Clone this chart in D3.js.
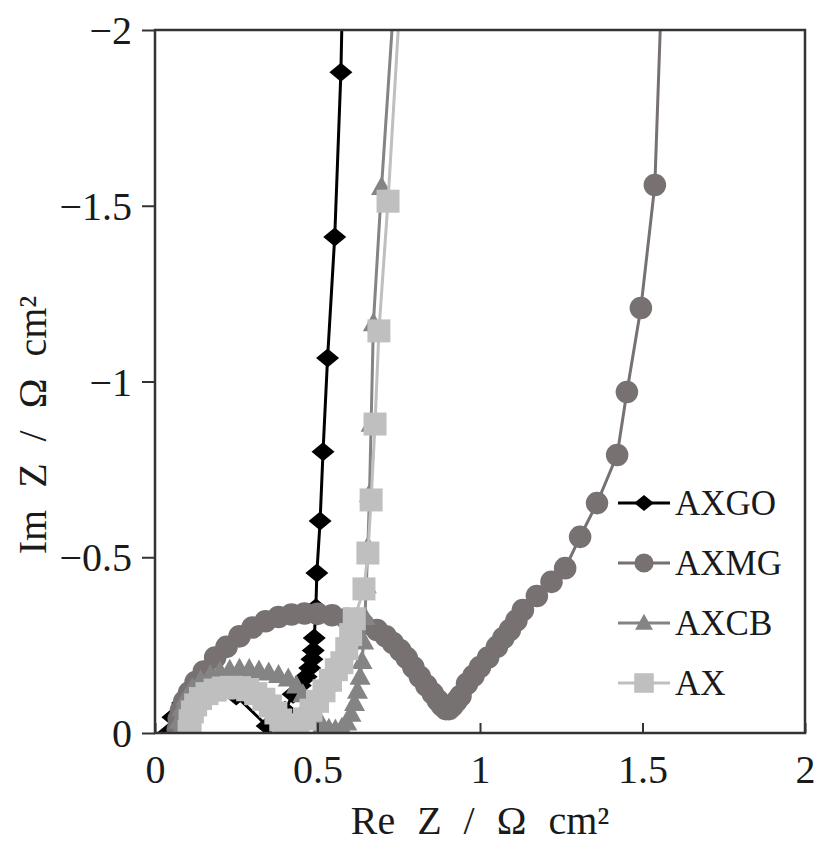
<!DOCTYPE html>
<html>
<head>
<meta charset="utf-8">
<script src="https://cdn.jsdelivr.net/npm/d3@7"></script>
<style>
  html, body { margin: 0; padding: 0; background: #fff; }
  svg { display: block; }
  text { font-family: "Liberation Serif", "Times New Roman", serif; fill: #1a1a1a; }
</style>
</head>
<body>
<svg id="chart" width="820" height="859"></svg>
<script>
// Nyquist data: real part (Ω cm²) and imaginary part (Ω cm², negative)
const axgoRe = [0.04,0.055,0.085,0.13,0.19,0.25,0.345,0.40,0.425,0.447,0.465,0.476,0.483,0.487,0.49,0.495,0.498,0.508,0.517,0.531,0.553,0.572,0.578];
const axgoIm = [0,-0.045,-0.085,-0.11,-0.118,-0.105,-0.02,-0.065,-0.11,-0.135,-0.16,-0.185,-0.21,-0.235,-0.27,-0.356,-0.455,-0.603,-0.80,-1.067,-1.411,-1.88,-2.15];

const axmgRe = [0.07,0.073,0.08,0.09,0.105,0.125,0.15,0.185,0.22,0.26,0.30,0.34,0.38,0.42,0.46,0.50,0.545,0.59,0.64,0.683,0.71,0.732,0.755,0.775,0.795,0.815,0.835,0.855,0.87,0.883,0.895,0.905,0.915,0.927,0.94,0.96,0.98,1.0,1.025,1.052,1.072,1.092,1.112,1.132,1.175,1.22,1.262,1.308,1.36,1.422,1.452,1.495,1.538,1.562];
const axmgIm = [-0.01,-0.04,-0.065,-0.09,-0.115,-0.145,-0.175,-0.215,-0.245,-0.275,-0.30,-0.318,-0.33,-0.337,-0.34,-0.339,-0.335,-0.325,-0.31,-0.293,-0.275,-0.256,-0.235,-0.213,-0.187,-0.16,-0.135,-0.112,-0.093,-0.078,-0.068,-0.068,-0.077,-0.09,-0.105,-0.14,-0.163,-0.188,-0.215,-0.245,-0.27,-0.293,-0.32,-0.35,-0.39,-0.43,-0.469,-0.558,-0.654,-0.791,-0.970,-1.209,-1.559,-2.2];

const axcbRe = [0.07,0.074,0.082,0.095,0.115,0.14,0.17,0.20,0.23,0.26,0.29,0.32,0.35,0.38,0.41,0.435,0.455,0.47,0.485,0.50,0.515,0.535,0.555,0.575,0.59,0.603,0.614,0.623,0.631,0.637,0.642,0.646,0.65,0.655,0.66,0.665,0.672,0.697,0.74];
const axcbIm = [0,-0.035,-0.07,-0.10,-0.128,-0.15,-0.165,-0.175,-0.18,-0.183,-0.182,-0.178,-0.172,-0.165,-0.155,-0.135,-0.11,-0.085,-0.06,-0.04,-0.022,-0.012,-0.01,-0.015,-0.03,-0.055,-0.085,-0.12,-0.16,-0.205,-0.26,-0.33,-0.42,-0.53,-0.68,-0.88,-1.166,-1.553,-2.15];

const axRe = [0.105,0.108,0.115,0.125,0.14,0.16,0.185,0.21,0.235,0.26,0.285,0.31,0.335,0.355,0.372,0.387,0.40,0.412,0.425,0.44,0.46,0.48,0.50,0.52,0.54,0.558,0.575,0.59,0.602,0.613,0.643,0.655,0.665,0.677,0.689,0.717,0.758];
const axIm = [-0.005,-0.035,-0.06,-0.08,-0.098,-0.112,-0.122,-0.128,-0.13,-0.129,-0.123,-0.112,-0.096,-0.077,-0.057,-0.037,-0.02,-0.01,-0.008,-0.018,-0.04,-0.065,-0.09,-0.12,-0.15,-0.18,-0.2,-0.24,-0.28,-0.325,-0.41,-0.512,-0.663,-0.879,-1.144,-1.513,-2.15];

const seriesNames = ["AXGO", "AXMG", "AXCB", "AX"];
const xTicks = [0, 0.5, 1, 1.5, 2];
const yTicks = [0, -0.5, -1, -1.5, -2];
const xTitle = "Re Z / Ω cm²";
const yTitle = "Im Z / Ω cm²";

const series = [
  { name: seriesNames[0], re: axgoRe, im: axgoIm, color: "#000000", symbol: "diamond" },
  { name: seriesNames[1], re: axmgRe, im: axmgIm, color: "#777171", symbol: "circle" },
  { name: seriesNames[2], re: axcbRe, im: axcbIm, color: "#848484", symbol: "triangle" },
  { name: seriesNames[3], re: axRe, im: axIm, color: "#bfbfbf", symbol: "square" }
];

const svg = d3.select("#chart");
const plotL = 155, plotR = 805, plotT = 30, plotB = 733;

const x = d3.scaleLinear().domain([0, 2]).range([plotL, plotR]);
const y = d3.scaleLinear().domain([0, -2]).range([plotB, plotT]);

const fmt = v => (v < 0 ? "\u2212" : "") + String(Math.abs(v));

// markers
const symbolPaths = {
  diamond: "M0,-9.5L11.5,0L0,9.5L-11.5,0Z",
  circle: d3.symbol(d3.symbolCircle, 400)(),
  triangle: "M0,-11L10.5,8L-10.5,8Z",
  square: "M-11.5,-11.5H11.5V11.5H-11.5Z"
};

svg.append("defs").append("clipPath").attr("id", "plotClip")
  .append("rect").attr("x", plotL).attr("y", plotT)
  .attr("width", plotR - plotL).attr("height", plotB - plotT);

const plot = svg.append("g").attr("clip-path", "url(#plotClip)");
const line = d3.line().x(d => x(d[0])).y(d => y(d[1]));

// series painted in order, the first one lowest
series.forEach(s => {
  const pts = s.re.map((r, k) => [r, s.im[k]]);
  const g = plot.append("g");
  g.append("path").datum(pts)
    .attr("d", line)
    .attr("fill", "none")
    .attr("stroke", s.color)
    .attr("stroke-width", 3);
  g.selectAll("path.pt").data(pts).join("path")
    .attr("class", "pt")
    .attr("d", symbolPaths[s.symbol])
    .attr("transform", d => `translate(${x(d[0])},${y(d[1])})`)
    .attr("fill", s.color);
});

// frame
svg.append("rect")
  .attr("x", plotL).attr("y", plotT)
  .attr("width", plotR - plotL).attr("height", plotB - plotT)
  .attr("fill", "none").attr("stroke", "#333").attr("stroke-width", 2.5);

// axes
const xAxis = d3.axisBottom(x).tickValues(xTicks).tickSizeInner(-10).tickSizeOuter(0).tickPadding(22).tickFormat(fmt);
const yAxis = d3.axisLeft(y).tickValues(yTicks).tickSize(13).tickSizeOuter(0).tickPadding(10).tickFormat(fmt);

const gx = svg.append("g").attr("transform", `translate(0,${plotB})`).call(xAxis);
const gy = svg.append("g").attr("transform", `translate(${plotL},0)`).call(yAxis);
[gx, gy].forEach(g => {
  g.select(".domain").remove();
  g.selectAll(".tick line").attr("stroke", "#333").attr("stroke-width", 2);
  g.selectAll(".tick text")
    .attr("font-family", "Liberation Serif, Times New Roman, serif")
    .attr("font-size", 40).attr("fill", "#1a1a1a");
});
gy.selectAll(".tick text").attr("dy", "0.34em");

// axis titles
svg.append("text")
  .attr("x", (plotL + plotR) / 2).attr("y", 834)
  .attr("text-anchor", "middle")
  .attr("font-size", 40)
  .attr("word-spacing", 12)
  .text(xTitle);

svg.append("text")
  .attr("transform", "translate(46,425) rotate(-90)")
  .attr("text-anchor", "middle")
  .attr("font-size", 40)
  .attr("word-spacing", 12)
  .text(yTitle);

// legend
const legend = svg.append("g");
series.forEach((s, i) => {
  const ly = 503 + i * 60;
  const g = legend.append("g").attr("transform", `translate(0,${ly})`);
  g.append("line").attr("x1", 618).attr("x2", 670).attr("y1", 0).attr("y2", 0)
    .attr("stroke", s.color).attr("stroke-width", 3);
  g.append("path").attr("d", symbolPaths[s.symbol])
    .attr("transform", `translate(644,0) scale(0.85)`)
    .attr("fill", s.color);
  g.append("text").attr("x", 675).attr("y", 0).attr("dy", "0.35em")
    .attr("font-size", 35).text(s.name);
});
</script>
</body>
</html>
